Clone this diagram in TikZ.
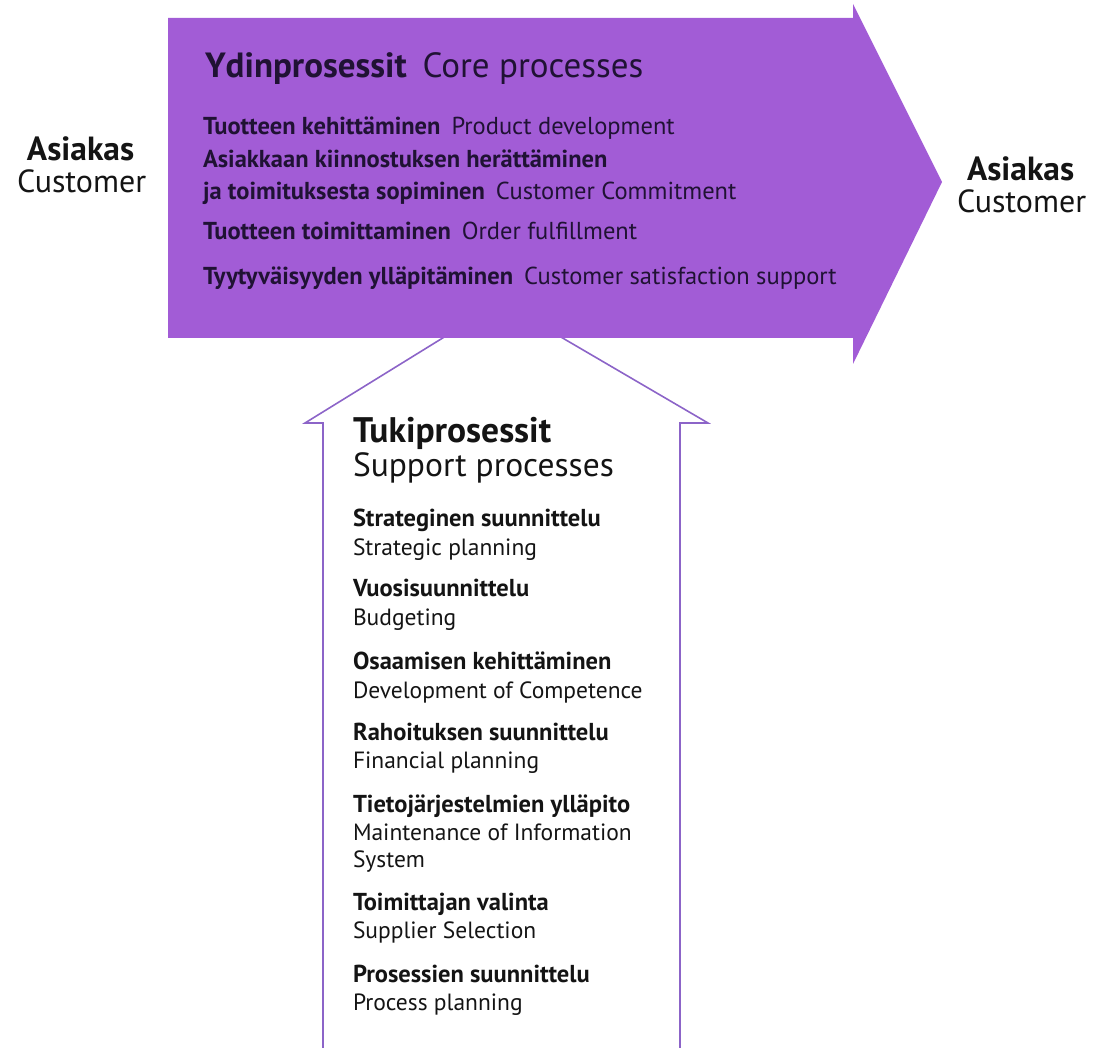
\documentclass[tikz,border=0pt]{standalone}
\usepackage{fontspec}
\setmainfont{PT Sans}
\definecolor{corefill}{RGB}{162,92,214}
\definecolor{supportline}{RGB}{140,100,200}
\definecolor{coretext}{RGB}{32,18,52}
\definecolor{plaintext}{RGB}{20,20,20}
\tikzset{
  txt/.style={anchor=base west, inner sep=0pt, outer sep=0pt},
  cust/.style={txt, font=\fontsize{32}{36}\selectfont, text=plaintext},
  custbold/.style={txt, font=\fontsize{33.5}{36}\selectfont\bfseries, text=plaintext},
  coreitem/.style={txt, font=\fontsize{24.5}{28}\selectfont, text=coretext},
  supbold/.style={txt, font=\fontsize{24.5}{28}\selectfont\bfseries, text=plaintext},
  supplain/.style={txt, font=\fontsize{23.5}{28}\selectfont, text=plaintext},
}
\newcommand{\gap}{\hspace{0.45em}}
\begin{document}
\begin{tikzpicture}[x=1pt,y=-1pt]
\useasboundingbox (0,0) rectangle (1104,1048);

% support processes: outlined up arrow, open at the bottom
\draw[supportline, line width=1.6pt, line join=miter]
  (323,1052) -- (323,423) -- (305,423) -- (501,302) -- (708,423) -- (680,423) -- (680,1052);

% core processes: filled right arrow
\fill[corefill] (168,18) -- (853,18) -- (853,4) -- (942,182) -- (853,364)
  -- (853,338) -- (168,338) -- cycle;

% customers on both sides
\node[custbold] (custLa) at (27,161) {Asiakas};
\node[cust] (custLb) at (17,193) {Customer};
\node[custbold] (custRa) at (967,181) {Asiakas};
\node[cust] (custRb) at (957,213) {Customer};

% core process texts
\node[txt, text=coretext] (coreTitle) at (205,78)
  {\fontsize{35}{38}\selectfont\textbf{Ydinprosessit}\gap Core processes};
\node[coreitem] (core1) at (203,135) {\textbf{Tuotteen kehittäminen}\gap Product development};
\node[coreitem] (core2a) at (203,168) {\textbf{Asiakkaan kiinnostuksen herättäminen}};
\node[coreitem] (core2b) at (203,200) {\textbf{ja toimituksesta sopiminen}\gap Customer Commitment};
\node[coreitem] (core3) at (203,240) {\textbf{Tuotteen toimittaminen}\gap Order fulfillment};
\node[coreitem] (core4) at (203,285) {\textbf{Tyytyväisyyden ylläpitäminen}\gap Customer satisfaction support};

% support process texts
\node[txt, text=plaintext, font=\fontsize{35.5}{38}\selectfont\bfseries] (supTitle) at (353,443) {Tukiprosessit};
\node[txt, text=plaintext, font=\fontsize{33.5}{38}\selectfont] (supTitleEn) at (353,477) {Support processes};

\node[supbold] (s1a) at (353,527) {Strateginen suunnittelu};
\node[supplain] (s1b) at (353,556) {Strategic planning};
\node[supbold] (s2a) at (353,596) {Vuosisuunnittelu};
\node[supplain] (s2b) at (353,625) {Budgeting};
\node[supbold] (s3a) at (353,669) {Osaamisen kehittäminen};
\node[supplain] (s3b) at (353,698) {Development of Competence};
\node[supbold] (s4a) at (353,740) {Rahoituksen suunnittelu};
\node[supplain] (s4b) at (353,768) {Financial planning};
\node[supbold] (s5a) at (353,812) {Tietojärjestelmien ylläpito};
\node[supplain] (s5b) at (353,840) {Maintenance of Information};
\node[supplain] (s5c) at (353,867) {System};
\node[supbold] (s6a) at (353,910) {Toimittajan valinta};
\node[supplain] (s6b) at (353,938) {Supplier Selection};
\node[supbold] (s7a) at (353,982) {Prosessien suunnittelu};
\node[supplain] (s7b) at (353,1010) {Process planning};
\end{tikzpicture}
\end{document}
